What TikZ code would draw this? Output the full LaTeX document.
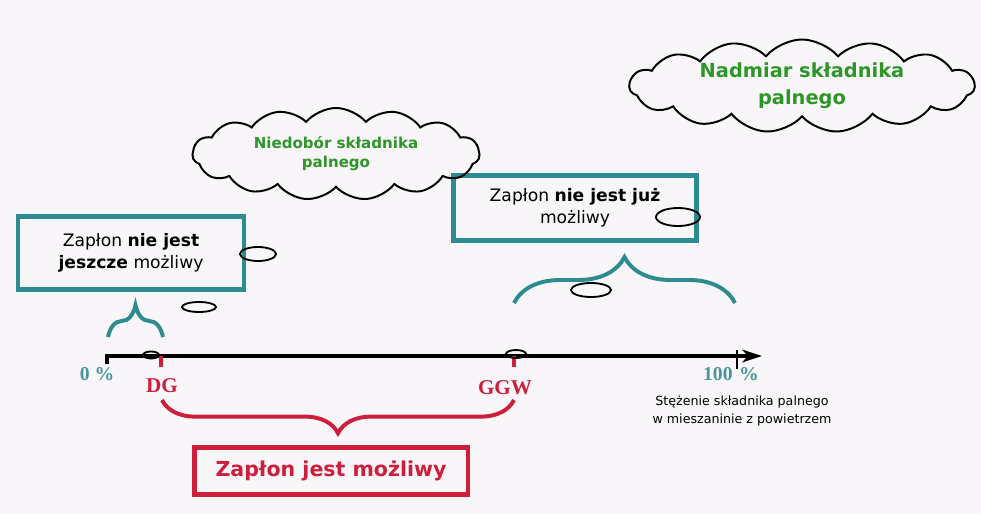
\documentclass[tikz,border=0pt]{standalone}
\usepackage{fontspec}
\setmainfont{DejaVu Sans}
\newfontfamily\axisfont{Liberation Serif}
\usetikzlibrary{positioning,shapes.symbols,decorations.pathreplacing,arrows.meta}
\definecolor{boxteal}{RGB}{46,140,145}
\definecolor{labelteal}{RGB}{70,150,155}
\definecolor{firered}{RGB}{205,30,60}
\definecolor{cloudgreen}{RGB}{45,150,40}
\definecolor{paper}{RGB}{249,246,249}

\begin{document}
\begin{tikzpicture}[x=0.025cm,y=-0.025cm,
    tealbox/.style={draw=boxteal,line width=2.9pt,align=center,inner sep=0pt,
        font=\fontsize{12.2}{15.6}\selectfont},
    thought/.style={cloud,cloud puffs=15,cloud puff arc=100,cloud ignores aspect,draw,line width=1.4pt,
        align=center,inner sep=0pt,text=cloudgreen},
    axislabel/.style={font=\axisfont\bfseries\fontsize{#1}{#1}\selectfont,inner sep=0pt},
    bracket/.style={decorate,line width=2.8pt,decoration={brace,amplitude=#1}},
    bubble/.style={draw,line width=1.3pt}
]
    \fill[paper] (0,0) rectangle (981,514);
    \useasboundingbox (0,0) rectangle (981,514);

    % axis
    \coordinate (zero) at (107,356);
    \coordinate (dg) at (161,356);
    \coordinate (ggw) at (514,356);
    \coordinate (full) at (737,356);
    \coordinate (tip) at (762,356);
    \draw[line width=2.2pt,-{Stealth[length=14pt,width=9pt,inset=4pt]}] ([yshift=-6pt]zero) -- (zero) -- (tip);
    \draw[line width=1.6pt] ([yshift=4pt]full) -- ([yshift=-9pt]full);
    \foreach \t in {dg,ggw} {
        \draw[firered,line width=2.6pt] (\t) -- ++(0,11);
    }

    \node[axislabel=14,text=labelteal] (zerolab) at (97,374) {0 \%};
    \node[axislabel=14,text=labelteal] (fulllab) at (731,374) {100\,\,\%};
    \node[axislabel=15,text=firered] (dglab) at (162,386) {DG};
    \node[axislabel=15,text=firered] (ggwlab) at (505,388) {GGW};
    \node[align=center,font=\fontsize{9}{12.2}\selectfont,inner sep=0pt] (caption) at (742,411)
        {Stężenie składnika palnego\\w mieszaninie z powietrzem};

    % braces
    \draw[bracket=0.8cm,boxteal] (108,337) -- (163,337);
    \draw[bracket=1.15cm,boxteal] (514,303) -- (735,303);
    \draw[bracket=0.83cm,firered,decoration={mirror}] (162,400) -- (514,400);

    % boxes
    \node[tealbox,minimum width=5.65cm,minimum height=1.825cm] (notyet) at (131,253)
        {Zapłon \textbf{nie jest}\\\textbf{jeszcze} możliwy};
    \node[tealbox,minimum width=6.075cm,minimum height=1.625cm] (nolonger) at (575,208)
        {Zapłon \textbf{nie jest już}\\możliwy};
    \node[draw=firered,line width=2.9pt,text=firered,minimum width=6.825cm,minimum height=1.175cm,
        font=\bfseries\fontsize{14.6}{15}\selectfont] (possible) at (331,471) {Zapłon jest możliwy};

    % clouds
    \node[thought,minimum width=7.175cm,minimum height=2.3cm,
        font=\bfseries\fontsize{10.7}{13.5}\selectfont] (lean) at (336,154)
        {Niedobór składnika\\palnego};
    \node[thought,minimum width=8.625cm,minimum height=2.325cm,
        font=\bfseries\fontsize{13.8}{19}\selectfont] (rich) at (802,86)
        {Nadmiar składnika\\palnego};

    % thought bubbles
    \foreach \cx/\cy/\rx/\ry in {258/254/18/7, 199/307/17/5, 151/355/8/3.5,
                                 516/354/10/4, 591/290/20/7, 678/217/22/9} {
        \draw[bubble] (\cx,\cy) ellipse [x radius=\rx, y radius=\ry];
    }
\end{tikzpicture}
\end{document}
